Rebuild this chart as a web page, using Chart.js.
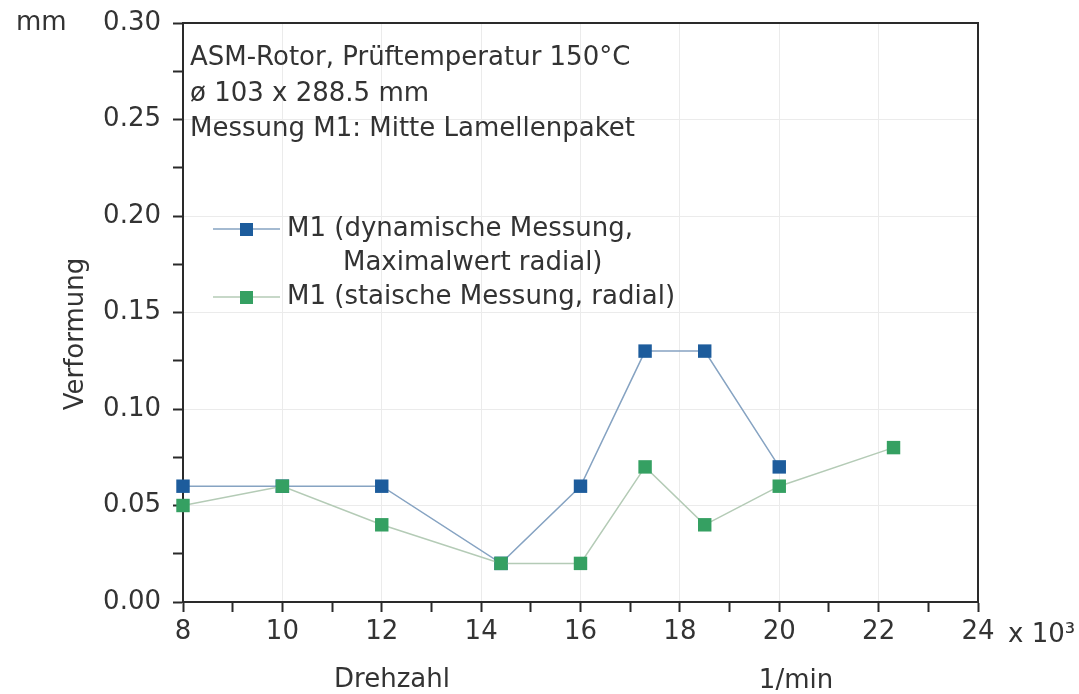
<!DOCTYPE html>
<html lang="de">
<head>
  <meta charset="UTF-8" />
  <title>Verformung ASM-Rotor</title>
  <script src="https://cdn.jsdelivr.net/npm/chart.js"></script>
  <style>
    body { margin: 0; background: #fff; }
  </style>
</head>
<body>
  <canvas id="rotorChart" width="1079" height="694"></canvas>

  <script>
    // Drehzahl in 1000 1/min, Verformung in mm
    const speedDyn = [8, 10, 12, 14.4, 16, 17.3, 18.5, 20];
    const deformDyn = [0.06, 0.06, 0.06, 0.02, 0.06, 0.13, 0.13, 0.07];
    const speedStat = [8, 10, 12, 14.4, 16, 17.3, 18.5, 20, 22.3];
    const deformStat = [0.05, 0.06, 0.04, 0.02, 0.02, 0.07, 0.04, 0.06, 0.08];

    const infoLines = [
      'ASM-Rotor, Prüftemperatur 150°C',
      'ø 103 x 288.5 mm',
      'Messung M1: Mitte Lamellenpaket'
    ];
    const legendDyn = ['M1 (dynamische Messung,', 'Maximalwert radial)'];
    const legendStat = 'M1 (staische Messung, radial)';

    const FONT = '"DejaVu Sans", sans-serif';
    const FS = 26;
    const TXT = '#333';
    const blueMark = '#1d5c9c', blueLine = '#86a3c2';
    const greenMark = '#35a062', greenLine = '#b4cbb6';

    const toPoints = (xs, ys) => xs.map((x, i) => ({ x: x, y: ys[i] }));

    // frame, extra labels and legend
    const extras = {
      id: 'extras',
      beforeDatasetsDraw(chart) {
        const { ctx, chartArea: a } = chart;
        ctx.save();
        ctx.strokeStyle = '#2a2a2a';
        ctx.lineWidth = 2;
        ctx.strokeRect(a.left, a.top, a.right - a.left, a.bottom - a.top);
        ctx.restore();
      },
      afterDraw(chart) {
        const { ctx } = chart;
        ctx.save();
        ctx.fillStyle = TXT;
        ctx.font = FS + 'px ' + FONT;
        ctx.textBaseline = 'middle';

        ctx.textAlign = 'left';
        ctx.fillText('mm', 16, 23);
        ctx.fillText('x 10³', 1008, 635);

        ctx.textAlign = 'center';
        ctx.fillText('Drehzahl', 392, 680);
        ctx.fillText('1/min', 796, 681);

        ctx.save();
        ctx.translate(76, 334);
        ctx.rotate(-Math.PI / 2);
        ctx.fillText('Verformung', 0, 0);
        ctx.restore();

        // info text
        ctx.textAlign = 'left';
        ctx.textBaseline = 'alphabetic';
        infoLines.forEach((t, i) => ctx.fillText(t, 190, 65 + i * 35.5));

        // legend
        const entry = (y, line, mark) => {
          ctx.strokeStyle = line;
          ctx.lineWidth = 1.5;
          ctx.beginPath();
          ctx.moveTo(213, y);
          ctx.lineTo(280, y);
          ctx.stroke();
          ctx.fillStyle = mark;
          ctx.fillRect(240, y - 6, 13, 13);
        };
        ctx.textBaseline = 'middle';
        entry(229, blueLine, blueMark);
        entry(297, greenLine, greenMark);
        ctx.fillStyle = TXT;
        ctx.fillText(legendDyn[0], 287, 229);
        ctx.fillText(legendDyn[1], 343, 263);
        ctx.fillText(legendStat, 287, 297);
        ctx.restore();
      }
    };

    const ctx = document.getElementById('rotorChart').getContext('2d');
    new Chart(ctx, {
      type: 'line',
      data: {
        datasets: [
          {
            label: 'M1 (dynamische Messung, Maximalwert radial)',
            data: toPoints(speedDyn, deformDyn),
            borderColor: blueLine,
            borderWidth: 1.5,
            backgroundColor: blueMark,
            pointBackgroundColor: blueMark,
            pointBorderColor: blueMark,
            pointStyle: 'rect',
            pointRadius: 9.5,
            pointBorderWidth: 0,
            order: 1,
            clip: false
          },
          {
            label: 'M1 (staische Messung, radial)',
            data: toPoints(speedStat, deformStat),
            borderColor: greenLine,
            borderWidth: 1.5,
            backgroundColor: greenMark,
            pointBackgroundColor: greenMark,
            pointBorderColor: greenMark,
            pointStyle: 'rect',
            pointRadius: 9.5,
            pointBorderWidth: 0,
            order: 0,
            clip: false
          }
        ]
      },
      options: {
        responsive: false,
        animation: false,
        layout: { padding: { top: 23, right: 101, left: 0, bottom: 0 } },
        plugins: {
          legend: { display: false },
          tooltip: { enabled: false }
        },
        scales: {
          x: {
            type: 'linear',
            min: 8,
            max: 24,
            afterFit: s => { s.height = 92; },
            border: { color: '#2a2a2a', width: 2 },
            grid: {
              color: c => (c.tick && c.tick.value % 2 === 0) ? '#ebebeb' : 'rgba(0,0,0,0)',
              tickColor: '#2a2a2a',
              tickLength: 10,
              tickWidth: 2
            },
            ticks: {
              stepSize: 1,
              autoSkip: false,
              maxRotation: 0,
              padding: 5,
              color: TXT,
              font: { family: FONT, size: FS },
              callback: v => v % 2 === 0 ? String(v) : ''
            }
          },
          y: {
            min: 0,
            max: 0.3,
            afterFit: s => { s.width = 183; },
            border: { color: '#2a2a2a', width: 2 },
            grid: {
              color: c => (c.tick && Math.round(c.tick.value * 1000) % 50 === 0) ? '#ebebeb' : 'rgba(0,0,0,0)',
              tickColor: '#2a2a2a',
              tickLength: 10,
              tickWidth: 2
            },
            ticks: {
              stepSize: 0.025,
              autoSkip: false,
              padding: 12,
              color: TXT,
              font: { family: FONT, size: FS, lineHeight: 0.6 },
              callback: v => Math.round(v * 1000) % 50 === 0 ? v.toFixed(2) : ''
            }
          }
        }
      },
      plugins: [extras]
    });
  </script>
</body>
</html>
